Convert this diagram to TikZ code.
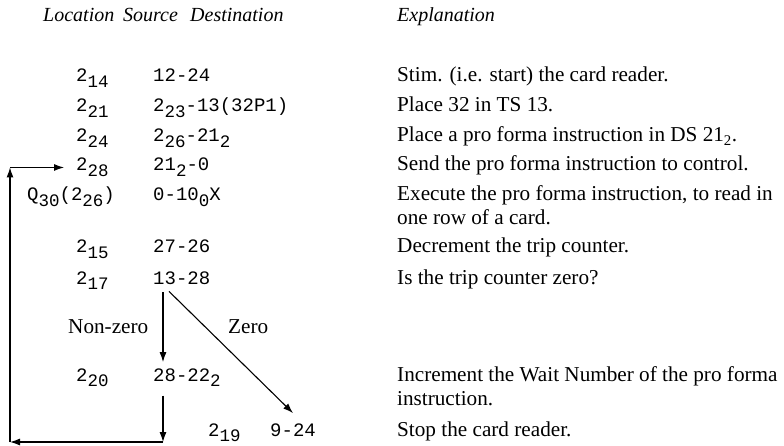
\documentclass[tikz,border=0pt]{standalone}
\usepackage{fontspec}
\setmainfont{Liberation Serif}
\setmonofont{Liberation Mono}
\usetikzlibrary{arrows.meta}

% lowered index in the code columns
\newcommand{\lo}[1]{\raisebox{-5.5pt}{\fontsize{17.5}{17.5}\selectfont #1}}

\tikzset{
  code/.style={anchor=base west, inner sep=0pt, font=\fontsize{19}{19}\selectfont\ttfamily},
  expl/.style={anchor=base west, inner sep=0pt, font=\fontsize{21.2}{24}\selectfont},
  head/.style={anchor=base west, inner sep=0pt, font=\fontsize{20}{24}\selectfont\itshape},
  flow/.style={-{Latex[length=10pt,width=7pt]}, line width=1.1pt}
}

\begin{document}
\begin{tikzpicture}[x=1pt, y=-1pt]
    \useasboundingbox (0,0) rectangle (784,446);

    % Column heads
    \node[head] (hloc) at (43,22) {Location};
    \node[head] (hsrc) at (123,22) {Source};
    \node[head] (hdst) at (190,22) {Destination};
    \node[head] (hexp) at (397,22) {Explanation};

    % Locations
    \node[code] (loc14) at (76,82) {2\lo{14}};
    \node[code] (loc21) at (76,112) {2\lo{21}};
    \node[code] (loc24) at (76,142) {2\lo{24}};
    \node[code] (loc28) at (76,171) {2\lo{28}};
    \node[code] (locq30) at (27,201) {Q\lo{30}(2\lo{26})};
    \node[code] (loc15) at (76,253) {2\lo{15}};
    \node[code] (loc17) at (76,284) {2\lo{17}};
    \node[code] (loc20) at (76,381) {2\lo{20}};
    \node[code] (loc19) at (208,436) {2\lo{19}};

    % Source - destination
    \node[code] (src14) at (153,82) {12-24};
    \node[code] (src21) at (153,112) {2\lo{23}-13(32P1)};
    \node[code] (src24) at (153,142) {2\lo{26}-21\lo{2}};
    \node[code] (src28) at (153,171) {21\lo{2}-0};
    \node[code] (srcq30) at (153,201) {0-10\lo{0}X};
    \node[code] (src15) at (153,253) {27-26};
    \node[code] (src17) at (153,284) {13-28};
    \node[code] (src20) at (153,381) {28-22\lo{2}};
    \node[code] (src19) at (270,436) {9-24};

    % Explanations
    \node[expl] (exp14) at (397,82) {Stim. (i.e. start) the card reader.};
    \node[expl] (exp21) at (397,112) {Place 32 in TS 13.};
    \node[expl] (exp24) at (397,142) {Place a pro forma instruction in DS 21\textsubscript{2}.};
    \node[expl] (exp28) at (397,171) {Send the pro forma instruction to control.};
    \node[expl] (expq30) at (397,201) {Execute the pro forma instruction, to read in};
    \node[expl] (expq30b) at (397,225) {one row of a card.};
    \node[expl] (exp15) at (397,253) {Decrement the trip counter.};
    \node[expl] (exp17) at (397,284) {Is the trip counter zero?};
    \node[expl] (exp20) at (397,381) {Increment the Wait Number of the pro forma};
    \node[expl] (exp20b) at (397,405) {instruction.};
    \node[expl] (exp19) at (397,436) {Stop the card reader.};

    % Branch labels
    \node[expl] (nonzero) at (68,333) {Non-zero};
    \node[expl] (zero) at (228,333) {Zero};

    % Branches
    \draw[flow] ([xshift=10pt,yshift=-8pt]src17.south west) -- ([xshift=10pt,yshift=6pt]src20.north west);
    \draw[flow] ([xshift=16pt,yshift=-7pt]src17.south west) -- ([yshift=10pt]src19.north);

    % Loop back to 2_28
    \coordinate (loopbr) at (163,442);
    \coordinate (loopbl) at (10,442);
    \coordinate (looptl) at (loopbl |- loc28.west);
    \draw[flow] ([xshift=10pt,yshift=-9pt]src20.south west) -- (loopbr);
    \draw[flow] (loopbr) -- (loopbl);
    \draw[flow] (loopbl) -- (looptl);
    \draw[flow] (looptl) -- ([xshift=-12pt]loc28.west);
\end{tikzpicture}
\end{document}
